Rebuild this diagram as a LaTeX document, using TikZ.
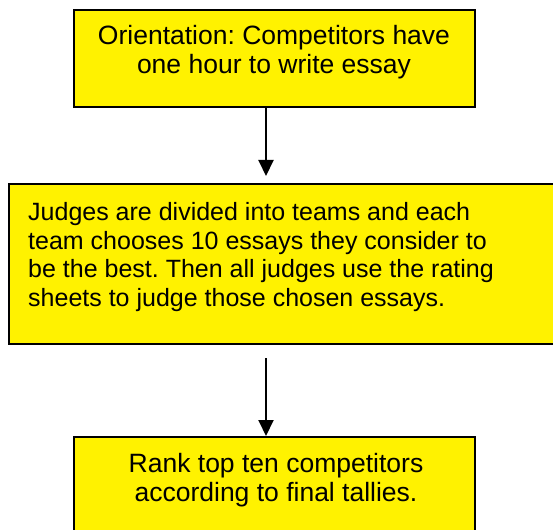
\documentclass[tikz,border=0pt]{standalone}
\usepackage{fontspec}
\setmainfont{Liberation Sans}
\usetikzlibrary{arrows.meta}
\frenchspacing

\begin{document}
\begin{tikzpicture}[x=1pt,y=1pt,
  stage/.style={draw=black, fill=yellow, line width=2pt, inner sep=0pt, anchor=north west},
  stagetext/.style={inner sep=0pt, anchor=north, align=center, font=\fontsize{26.5}{29.5}\selectfont},
  flow/.style={line width=2pt, -{Triangle[length=16pt,width=15pt]}}]
\useasboundingbox (0,0) rectangle (553,-529);

% first stage
\node[stage, minimum width=401pt, minimum height=97pt] (orient) at (73,-9) {};
\node[stagetext] (orienttxt) at (274,-25) {Orientation: Competitors have\\one hour to write essay};

% second stage, runs off the right edge
\node[stage, minimum width=560pt, minimum height=160pt] (judge) at (8,-183) {};
\node[stagetext, anchor=north west, align=left, font=\fontsize{25}{28.7}\selectfont] (judgetxt) at (28,-202)
  {Judges are divided into teams and each\\team chooses 10 essays they consider to\\be the best. Then all judges use the rating\\sheets to judge those chosen essays.};

% last stage, runs off the bottom
\node[stage, minimum width=401pt, minimum height=100pt] (rank) at (73,-436) {};
\node[stagetext] (ranktxt) at (276,-453) {Rank top ten competitors\\according to final tallies.};

\coordinate (spine) at (266,0);
\draw[flow] (spine |- orient.south) -- ([yshift=7pt]spine |- judge.north);
\draw[flow] ([yshift=-13pt]spine |- judge.south) -- (spine |- rank.north);
\end{tikzpicture}
\end{document}
